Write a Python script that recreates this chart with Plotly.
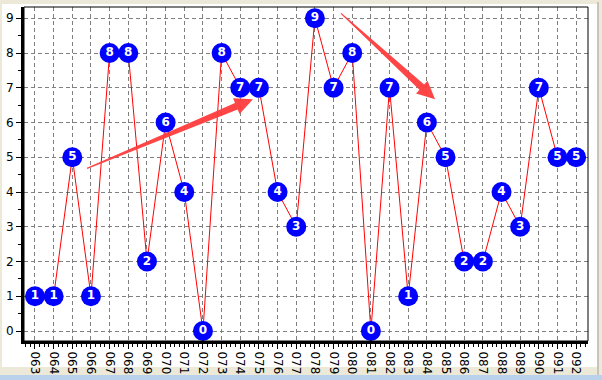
import math
import plotly.graph_objects as go

# ---- data ----
periods = ["063", "064", "065", "066", "067", "068", "069", "070", "071", "072",
           "073", "074", "075", "076", "077", "078", "079", "080", "081", "082",
           "083", "084", "085", "086", "087", "088", "089", "090", "091", "092"]
values = [1, 1, 5, 1, 8, 8, 2, 6, 4, 0,
          8, 7, 7, 4, 3, 9, 7, 8, 0, 7,
          1, 6, 5, 2, 2, 4, 3, 7, 5, 5]
y_ticks = [0, 1, 2, 3, 4, 5, 6, 7, 8, 9]

# annotation arrows: (tail x, tail y) -> (tip x, tip y) in data units (x = period index)
arrows = [((2.79, 4.68), (11.68, 6.67)),
          ((16.4, 9.14), (21.44, 6.67))]

x_idx = list(range(len(periods)))

# ---- geometry ----
W, H = 602, 380
ml, mr, mt, mb = 24, 14, 7, 39
xr = [-0.589, 29.635]
yr = [-0.2875, 9.325]
pw, ph = W - ml - mr, H - mt - mb
sx = pw / (xr[1] - xr[0])
sy = ph / (yr[1] - yr[0])


def to_px(x, y):
    return ((x - xr[0]) * sx, (yr[1] - y) * sy)


def to_data(px, py):
    return (px / sx + xr[0], yr[1] - py / sy)


def arrow_path(tail, tip, L=18, hw=8.5, ws=3.5, wt=0.6):
    tx, ty = to_px(*tail)
    hx, hy = to_px(*tip)
    d = math.hypot(hx - tx, hy - ty)
    ux, uy = (hx - tx) / d, (hy - ty) / d
    nx, ny = -uy, ux
    bx, by = hx - ux * L, hy - uy * L
    pts = [(tx + nx * wt, ty + ny * wt), (bx + nx * ws, by + ny * ws),
           (bx + nx * hw, by + ny * hw), (hx, hy),
           (bx - nx * hw, by - ny * hw), (bx - nx * ws, by - ny * ws),
           (tx - nx * wt, ty - ny * wt)]
    dpts = [to_data(*p) for p in pts]
    return "M " + " L ".join(f"{a:.4f},{b:.4f}" for a, b in dpts) + " Z"


fig = go.Figure()
fig.add_trace(go.Scatter(
    x=x_idx, y=values, mode="lines+markers+text",
    line=dict(color="#FF0000", width=1),
    marker=dict(color="#0000FF", size=20, line=dict(width=0)),
    text=[str(v) for v in values], textposition="middle center",
    textfont=dict(color="white", size=12, family="DejaVu Sans, Arial", weight="bold"),
    cliponaxis=False, hoverinfo="skip",
))

shapes = []
# white panel on beige window
shapes.append(dict(type="rect", xref="paper", yref="paper",
                   x0=(2 - ml) / pw, x1=(597 - ml) / pw,
                   y0=(H - mb - 367) / ph, y1=(H - mb - 4) / ph,
                   fillcolor="white", line=dict(width=0), layer="below"))
shapes.append(dict(type="line", xref="paper", yref="paper",
                   x0=(598 - ml) / pw, x1=(598 - ml) / pw,
                   y0=(H - mb - 380) / ph, y1=(H - mb - 2) / ph,
                   line=dict(color="#A0A0A0", width=1), layer="below"))
shapes.append(dict(type="rect", xref="paper", yref="paper",
                   x0=-0.1, x1=1.1,
                   y0=(H - mb - 381) / ph, y1=(H - mb - 375) / ph,
                   fillcolor="#B9D1EA", line=dict(width=0), layer="below"))
# thin frame top/right
shapes.append(dict(type="rect", xref="paper", yref="paper", x0=0, x1=1, y0=0, y1=1,
                   line=dict(color="black", width=1), layer="above"))
for tail, tip in arrows:
    shapes.append(dict(type="path", xref="x", yref="y", path=arrow_path(tail, tip),
                       fillcolor="rgba(255,60,60,0.95)", line=dict(width=0), layer="above"))

fig.update_layout(
    width=W, height=H,
    margin=dict(l=ml, r=mr, t=mt, b=mb, pad=0, autoexpand=False),
    paper_bgcolor="#ECE9D8", plot_bgcolor="white",
    showlegend=False,
    shapes=shapes,
    font=dict(family="DejaVu Sans, Arial", size=11, color="black"),
    xaxis=dict(range=xr, tickmode="array", tickvals=x_idx, ticktext=periods,
               tickangle=90, showgrid=True, gridcolor="#808080", griddash="4px,3px",
               gridwidth=1, zeroline=False, showline=True, linecolor="black",
               linewidth=3, ticks="outside", ticklen=5, tickcolor="black",
               automargin=False,
               tickfont=dict(size=12, color="black"),
               minor=dict(dtick=0.25, tick0=0, ticks="outside", ticklen=3,
                          tickcolor="black", showgrid=False)),
    yaxis=dict(range=yr, tickmode="array", tickvals=y_ticks,
               ticktext=[str(t) for t in y_ticks],
               showgrid=True, gridcolor="#808080", griddash="4px,3px", gridwidth=1,
               zeroline=False, showline=True, linecolor="black", linewidth=3,
               ticks="outside", ticklen=5, tickcolor="black",
               automargin=False,
               tickfont=dict(size=12, color="black"),
               minor=dict(dtick=0.5, tick0=0, ticks="outside", ticklen=3,
                          tickcolor="black", showgrid=False)),
)

fig.write_html("out.html", config={"displayModeBar": False, "staticPlot": True},
               post_script="document.body.style.margin='0';document.body.style.overflow='hidden';")
